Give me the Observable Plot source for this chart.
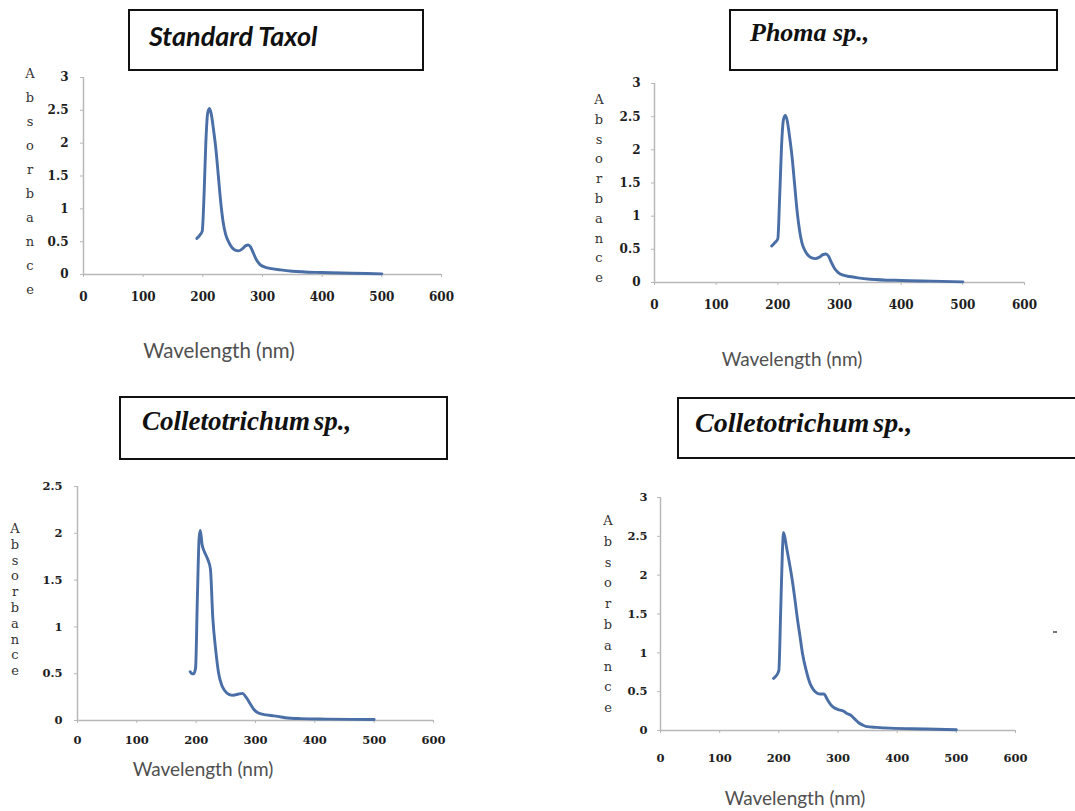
<!DOCTYPE html>
<html><head><meta charset="utf-8">
<script src="https://cdn.jsdelivr.net/npm/d3@7"></script>
<script src="https://cdn.jsdelivr.net/npm/@observablehq/plot@0.6"></script>
<style>
body{margin:0;background:#fff;}
#root{position:relative;width:1075px;height:811px;overflow:hidden;background:#fff;}
.pl{position:absolute;}
.box{position:absolute;border:2.5px solid #111;box-sizing:border-box;background:#fff;}
.box span{position:absolute;white-space:nowrap;color:#111;font-weight:bold;font-style:italic;line-height:1;}
.xl{position:absolute;white-space:nowrap;color:#505050;font-family:Lato,"Open Sans",sans-serif;transform:translate(-50%,-50%);}
.yl{position:absolute;font-family:"DejaVu Serif",serif;color:#333;font-size:13px;text-align:center;width:14px;line-height:1;transform:translate(-50%,-50%);}
svg g[aria-label="x-axis tick"], svg g[aria-label="y-axis tick"]{stroke:#b8b8b8;}
</style></head><body><div id="root"></div>
<script>
// ---- data ----
const titles = ["Standard Taxol", "Phoma sp.,", "Colletotrichum sp.,", "Colletotrichum sp.,"];
const yAxisLabel = "Absorbance";
const xAxisLabel = "Wavelength (nm)";
const xTicks = [0, 100, 200, 300, 400, 500, 600];
const yTicks3 = [0, 0.5, 1, 1.5, 2, 2.5, 3];
const yTicks25 = [0, 0.5, 1, 1.5, 2, 2.5];

const wl1 = [190,195,199,202,205,208,211,214,218,222,226,230,234,238,243,248,254,260,266,272,276,280,285,290,296,305,315,330,350,400,450,500];
const ab1 = [0.55,0.6,0.66,1.2,2.0,2.45,2.53,2.45,2.2,1.9,1.5,1.1,0.8,0.62,0.5,0.42,0.37,0.36,0.39,0.44,0.45,0.42,0.32,0.22,0.15,0.11,0.09,0.07,0.05,0.03,0.02,0.01];

const wl2 = [190,195,200,203,206,209,212,215,219,223,227,231,235,239,244,249,255,261,267,273,278,282,287,292,298,306,316,330,350,400,450,500];
const ab2 = [0.55,0.6,0.66,1.3,2.05,2.45,2.52,2.45,2.2,1.9,1.5,1.1,0.8,0.6,0.48,0.41,0.37,0.36,0.38,0.42,0.43,0.4,0.3,0.21,0.15,0.11,0.09,0.07,0.05,0.03,0.02,0.01];

const wl3 = [190,193,196,199,202,205,207,210,214,219,224,228,233,238,243,248,255,263,270,278,284,290,297,305,318,331,350,376,420,500];
const ab3 = [0.52,0.5,0.5,0.56,1.3,1.95,2.03,1.88,1.8,1.73,1.62,1.1,0.75,0.5,0.38,0.32,0.28,0.27,0.28,0.29,0.25,0.19,0.12,0.08,0.06,0.05,0.03,0.02,0.015,0.01];

const wl4 = [191,195,200,203,206,208,213,218,222,227,231,236,240,246,253,259,265,270,276,282,287,292,300,309,315,321,328,335,342,349,365,388,450,500];
const ab4 = [0.67,0.7,0.77,1.5,2.3,2.55,2.36,2.15,1.97,1.7,1.46,1.2,0.99,0.78,0.6,0.52,0.48,0.47,0.47,0.4,0.34,0.3,0.27,0.25,0.22,0.2,0.15,0.1,0.07,0.05,0.04,0.03,0.02,0.01];

// ---- layout ----
const root = document.getElementById("root");
const lineColor = "#4a6ea6";
const panels = [
  {wl: wl1, ab: ab1, ymax: 3, yt: yTicks3, left: 0, top: 60, w: 470, h: 260, ml: 83, mr: 29, mt: 17, mb: 46, xtp: 15, ytp: 12, fs: 12,
   box: [128, 9, 296, 62], tx: 19, tfont: '27px Lato, "Open Sans", sans-serif', tbase: 30, ws: 0,
   yl: [30, 73, 24], xl: [219, 350, 20.5]},
  {wl: wl2, ab: ab2, ymax: 3, yt: yTicks3, left: 540, top: 70, w: 535, h: 260, ml: 114, mr: 51, mt: 13, mb: 48, xtp: 15, ytp: 11, fs: 12,
   box: [729, 9, 329, 62], tx: 19, tfont: '26px "Liberation Serif", "Times New Roman", serif', tbase: 28, ws: 0,
   yl: [599, 99, 19.8], xl: [792, 358, 19]},
  {wl: wl3, ab: ab3, ymax: 2.5, yt: yTicks25, left: 0, top: 470, w: 470, h: 290, ml: 77, mr: 37, mt: 16, mb: 40, xtp: 12, ytp: 12, fs: 11.5,
   box: [119, 396, 329, 64], tx: 21, tfont: '27px "Liberation Serif", "Times New Roman", serif', tbase: 30, ws: -3,
   yl: [15, 528, 15.8], xl: [203, 768, 19]},
  {wl: wl4, ab: ab4, ymax: 3, yt: yTicks3, left: 540, top: 480, w: 535, h: 290, ml: 120, mr: 60, mt: 17, mb: 40, xtp: 20, ytp: 10, fs: 11.5,
   box: [677, 397, 420, 62], tx: 16, tfont: '28px "Liberation Serif", "Times New Roman", serif', tbase: 30, ws: -3,
   yl: [608, 520, 20.8], xl: [795, 797, 19]}
];

panels.forEach((p, i) => {
  const data = p.wl.map((w, k) => ({w, a: p.ab[k]}));
  const chart = Plot.plot({
    width: p.w, height: p.h,
    marginLeft: p.ml, marginRight: p.mr, marginTop: p.mt, marginBottom: p.mb,
    style: {fontFamily: '"DejaVu Serif", serif', fontSize: p.fs + "px", fontWeight: "bold", background: "transparent", overflow: "visible"},
    x: {domain: [0, 600]},
    y: {domain: [0, p.ymax]},
    marks: [
      Plot.axisX({ticks: xTicks, tickSize: 3, tickPadding: p.xtp, tickFormat: d => String(d), label: null, color: "#1e1e1e"}),
      Plot.axisY({ticks: p.yt, tickSize: 3, tickPadding: p.ytp, tickFormat: d => String(d), label: null, color: "#1e1e1e"}),
      Plot.ruleY([0], {x1: 0, x2: 600, stroke: "#b8b8b8", strokeWidth: 1.5}),
      Plot.ruleX([0], {y1: 0, y2: p.ymax, stroke: "#b8b8b8", strokeWidth: 1.5}),
      Plot.line(data, {x: "w", y: "a", stroke: lineColor, strokeWidth: 2.9, curve: "monotone-x"})
    ]
  });
  chart.classList.add("pl");
  chart.style.left = p.left + "px";
  chart.style.top = p.top + "px";
  root.appendChild(chart);

  // title box
  const box = document.createElement("div");
  box.className = "box";
  box.style.left = p.box[0] + "px"; box.style.top = p.box[1] + "px";
  box.style.width = p.box[2] + "px"; box.style.height = p.box[3] + "px";
  const sp = document.createElement("span");
  sp.textContent = titles[i];
  sp.style.font = "italic bold " + p.tfont;
  sp.style.wordSpacing = p.ws + "px";
  sp.style.left = p.tx + "px";
  sp.style.top = (p.tbase - parseFloat(p.tfont) * 0.8) + "px";
  box.appendChild(sp);
  root.appendChild(box);

  // stacked y label
  [...yAxisLabel].forEach((ch, k) => {
    const d = document.createElement("div");
    d.className = "yl";
    d.textContent = ch;
    d.style.left = p.yl[0] + "px";
    d.style.top = (p.yl[1] + k * p.yl[2]) + "px";
    root.appendChild(d);
  });

  // x label
  const xl = document.createElement("div");
  xl.className = "xl";
  xl.textContent = xAxisLabel;
  xl.style.left = p.xl[0] + "px";
  xl.style.top = p.xl[1] + "px";
  xl.style.fontSize = p.xl[2] + "px";
  root.appendChild(xl);
});

// small stray mark at right edge
const dash = document.createElement("div");
dash.style.cssText = "position:absolute;left:1053px;top:631px;width:4px;height:2px;background:#777;";
root.appendChild(dash);
</script>
</body></html>
